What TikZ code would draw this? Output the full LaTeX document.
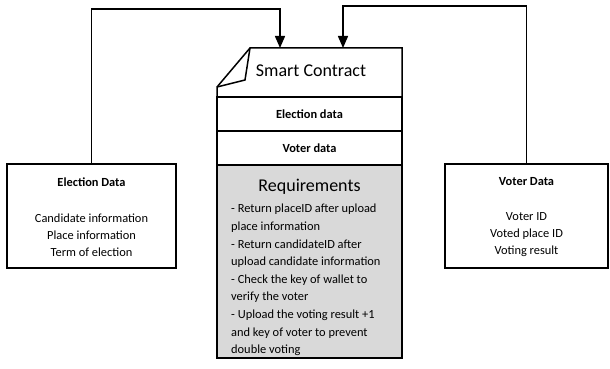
\documentclass[tikz,border=0pt]{standalone}
\usepackage{fontspec}
\setmainfont{Carlito}
\usetikzlibrary{arrows.meta}

\begin{document}
\begin{tikzpicture}[x=1pt,y=-1pt,font=\fontsize{12.4}{17}\selectfont,
  outer/.style={draw,line width=1.8pt,inner sep=0pt,minimum height=104pt},
  part/.style={draw,line width=1.5pt,inner sep=0pt,minimum width=185pt},
  head/.style={font=\fontsize{18}{20}\selectfont},
  bold/.style={font=\fontsize{12.4}{17}\selectfont\bfseries},
  feed/.style={line width=1.5pt,-{Triangle[length=12pt,width=10pt]}}]
  \useasboundingbox (0,0) rectangle (610,369);
  % side boxes
  \node[outer,minimum width=169pt] (elecbox) at (91.5,216) {};
  \node[outer,minimum width=163pt] (voterbox) at (526.5,216) {};
  \node[bold] (electitle) at (91.5,182) {Election Data};
  \node[align=center] (eleclist) at (91.5,235) {Candidate information\\Place information\\Term of election};
  \node[bold] (votertitle) at (526.5,182) {Voter Data};
  \node[align=center] (voterlist) at (526.5,235) {Voter ID\\Voted place ID\\Voting result};
  % smart contract
  \draw[line width=1.5pt] (250,48) -- (402,48) -- (402,97) -- (217,97) -- (217,87) -- cycle;
  \draw[line width=1.5pt] (250,48) -- (245,80) -- (217,87);
  \node[head] (sc) at (311,71) {Smart Contract};
  \node[part,minimum height=34pt] (edata) at (309.5,114) {\bfseries Election data};
  \node[part,minimum height=34pt] (vdata) at (309.5,148) {\bfseries Voter data};
  \node[part,fill=gray!30,minimum height=193pt] (req) at (309.5,261.5) {};
  \node[head] (reqtitle) at (309.5,187) {Requirements};
  \node[anchor=north west,align=left,inner sep=0pt,font=\fontsize{12.4}{17.6}\selectfont] (reqtext) at (231,204) {- Return placeID after upload\\place information\\- Return candidateID after\\upload candidate information\\- Check the key of wallet to\\verify the voter\\- Upload the voting result +1\\and key of voter to prevent\\double voting};
  % links
  \coordinate (inE) at (280,48);
  \coordinate (inV) at (343,48);
  \draw[feed] (elecbox.north) -- ++(0,-154) -| (inE);
  \draw[feed] (voterbox.north) -- ++(0,-157) -| (inV);
\end{tikzpicture}
\end{document}
